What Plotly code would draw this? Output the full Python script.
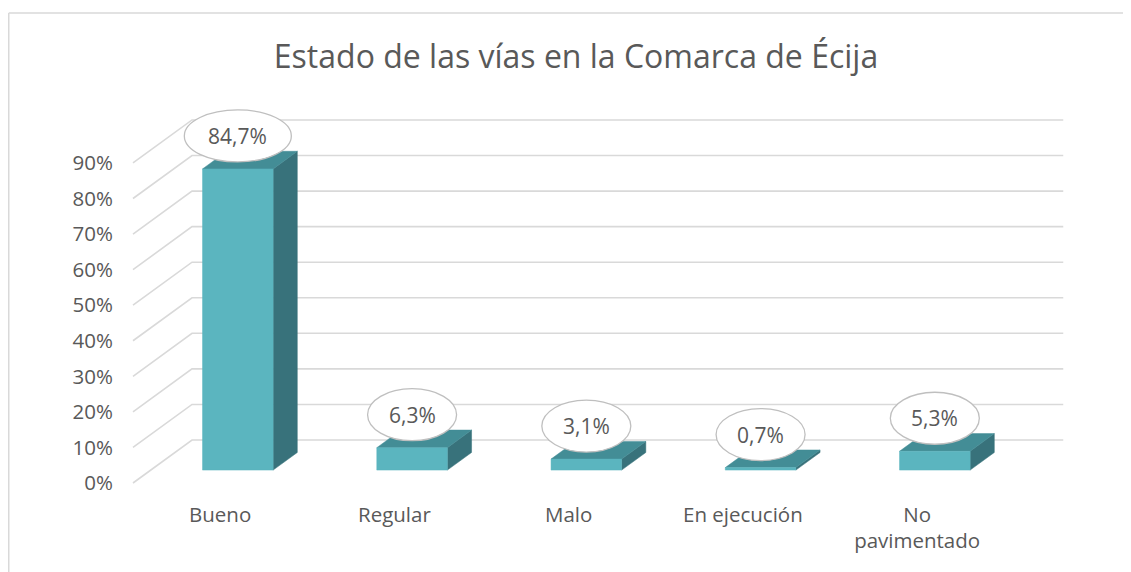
import plotly.graph_objects as go

# ---------------- data ----------------
categories = ["Bueno", "Regular", "Malo", "En ejecución", "No<br>pavimentado"]
values = [84.7, 6.3, 3.1, 0.7, 5.3]
y_ticks = [0, 10, 20, 30, 40, 50, 60, 70, 80, 90]
title_text = "Estado de las vías en la Comarca de Écija"

# ---------------- layout constants (pixels / style) ----------------
PAGE_OFF = 8                    # default body margin of the html page
FIG_W, FIG_H = 1131 - PAGE_OFF, 572 - PAGE_OFF
M_L, M_R, M_T, M_B = 120 - PAGE_OFF, 32, 100 - PAGE_OFF, 72
PX_Y = 3.556            # pixels per percentage point
PX_X = 174.25           # pixels per category
ORIGIN_X, ORIGIN_Y = 133 - PAGE_OFF, 483 - PAGE_OFF   # front-left floor corner
DEPTH_DX_PX, DEPTH_DY_PX = 59, 43
BAR_F1, BAR_F2 = 0.30, 0.71     # depth fractions of bar front / back faces
BAR_W = 0.405                   # bar width in category units
LABEL_OFFSET_PX = 33
GRID_COLOR = "#d9d9d9"
TEXT_COLOR = "#595959"
FONT = "Open Sans"
AXIS_FS, LABEL_FS, TITLE_FS = 20.5, 21, 32
C_FRONT, C_TOP, C_SIDE = "#5BB5BF", "#438D96", "#38727B"

plot_w = FIG_W - M_L - M_R
plot_h = FIG_H - M_T - M_B
x_range = [(M_L - ORIGIN_X) / PX_X, (M_L + plot_w - ORIGIN_X) / PX_X]
y_range = [-(M_T + plot_h - ORIGIN_Y) / PX_Y, (ORIGIN_Y - M_T) / PX_Y]
DX = DEPTH_DX_PX / PX_X
DY = DEPTH_DY_PX / PX_Y
n = len(categories)

fig = go.Figure()

# ---------------- gridlines (back wall + left side wall) ----------------
gx, gy = [], []
for v in y_ticks:
    gx += [0, DX, n + DX, None]
    gy += [v, v + DY, v + DY, None]
fig.add_trace(go.Scatter(x=gx, y=gy, mode="lines",
                         line=dict(color=GRID_COLOR, width=1.6),
                         hoverinfo="skip", showlegend=False))

# ---------------- bars ----------------
ddx = (BAR_F2 - BAR_F1) * DX
ddy = (BAR_F2 - BAR_F1) * DY
shapes, annotations = [], []
for i, v in enumerate(values):
    xc = i + 0.5 + BAR_F1 * DX
    yb = BAR_F1 * DY
    x0, x1 = xc - BAR_W / 2, xc + BAR_W / 2
    yt = yb + v
    # side face
    fig.add_trace(go.Scatter(
        x=[x1, x1 + ddx, x1 + ddx, x1, x1],
        y=[yb, yb + ddy, yt + ddy, yt, yb],
        fill="toself", fillcolor=C_SIDE, mode="lines",
        line=dict(color=C_SIDE, width=0.5), hoverinfo="skip", showlegend=False))
    # top face
    fig.add_trace(go.Scatter(
        x=[x0, x1, x1 + ddx, x0 + ddx, x0],
        y=[yt, yt, yt + ddy, yt + ddy, yt],
        fill="toself", fillcolor=C_TOP, mode="lines",
        line=dict(color=C_TOP, width=0.5), hoverinfo="skip", showlegend=False))
    # front face
    fig.add_trace(go.Scatter(
        x=[x0, x1, x1, x0, x0],
        y=[yb, yb, yt, yt, yb],
        fill="toself", fillcolor=C_FRONT, mode="lines",
        line=dict(color=C_FRONT, width=0.5), hoverinfo="skip", showlegend=False))

    label = f"{v:.1f}".replace(".", ",") + "%"
    yl = yt + LABEL_OFFSET_PX / PX_Y
    ew = 17 + 18 * len(label)
    shapes.append(dict(type="circle", xref="x", yref="y",
                       xsizemode="pixel", ysizemode="pixel",
                       xanchor=xc, yanchor=yl,
                       x0=-ew / 2, x1=ew / 2, y0=-26, y1=26,
                       fillcolor="white", line=dict(color="#bfbfbf", width=1.3),
                       layer="above"))
    annotations.append(dict(x=xc, y=yl, xref="x", yref="y", text=label,
                            showarrow=False, xanchor="center", yanchor="middle",
                            font=dict(family=FONT, size=LABEL_FS, color=TEXT_COLOR)))

# ---------------- chart-area border (top and left) ----------------
def px_to_paper_x(px):
    return (px - M_L) / plot_w

def px_to_paper_y(py):
    return (M_T + plot_h - py) / plot_h

BORDER_X, BORDER_Y = 8 - PAGE_OFF + 0.75, 13 - PAGE_OFF
shapes.append(dict(type="line", xref="paper", yref="paper",
                   x0=px_to_paper_x(BORDER_X), x1=px_to_paper_x(FIG_W + 5),
                   y0=px_to_paper_y(BORDER_Y), y1=px_to_paper_y(BORDER_Y),
                   line=dict(color=GRID_COLOR, width=1.5), layer="below"))
shapes.append(dict(type="line", xref="paper", yref="paper",
                   x0=px_to_paper_x(BORDER_X), x1=px_to_paper_x(BORDER_X),
                   y0=px_to_paper_y(BORDER_Y), y1=px_to_paper_y(FIG_H + 5),
                   line=dict(color=GRID_COLOR, width=1.5), layer="below"))

fig.update_layout(
    width=FIG_W, height=FIG_H,
    margin=dict(l=M_L, r=M_R, t=M_T, b=M_B),
    paper_bgcolor="white", plot_bgcolor="white",
    font=dict(family=FONT, color=TEXT_COLOR, size=AXIS_FS),
    title=dict(text=title_text, x=(576 - PAGE_OFF) / FIG_W, xanchor="center",
               y=1 - (57 - PAGE_OFF) / FIG_H, yanchor="middle",
               font=dict(family=FONT, size=TITLE_FS, color=TEXT_COLOR)),
    xaxis=dict(range=x_range, showgrid=False, zeroline=False, showline=False,
               tickmode="array", tickvals=[i + 0.5 for i in range(n)],
               ticktext=categories, ticks="", ticklabelstandoff=0,
               tickfont=dict(family=FONT, size=AXIS_FS, color=TEXT_COLOR),
               fixedrange=True),
    yaxis=dict(range=y_range, showgrid=False, zeroline=False, showline=False,
               tickmode="array", tickvals=y_ticks,
               ticktext=[f"{t}%" for t in y_ticks], ticks="",
               ticklabelstandoff=6,
               tickfont=dict(family=FONT, size=AXIS_FS, color=TEXT_COLOR),
               fixedrange=True),
    shapes=shapes, annotations=annotations, showlegend=False,
)

fig.write_html("out.html")
